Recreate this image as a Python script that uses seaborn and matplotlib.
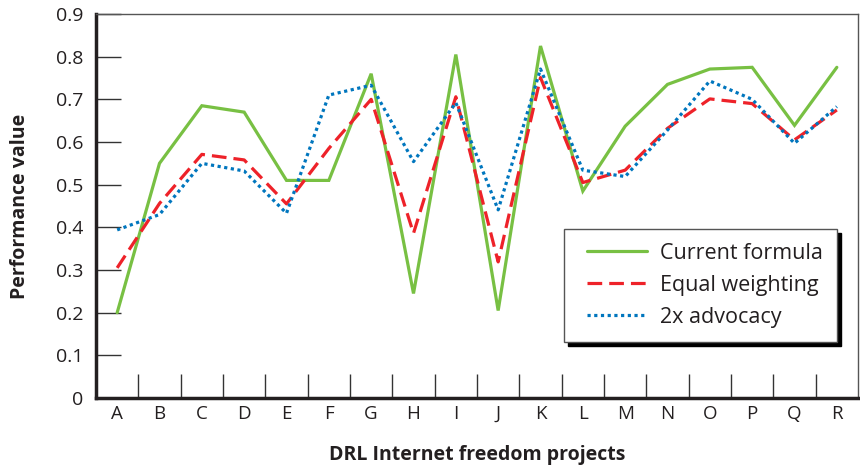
import numpy as np
import pandas as pd
import matplotlib
matplotlib.use("Agg")
import matplotlib.pyplot as plt
import seaborn as sns
from matplotlib.ticker import FixedLocator
from matplotlib.lines import Line2D
from matplotlib.legend_handler import HandlerLine2D

categories = list("ABCDEFGHIJKLMNOPQR")
current_formula = [0.20, 0.55, 0.685, 0.67, 0.51, 0.51, 0.76, 0.245, 0.805, 0.205, 0.825,
                   0.485, 0.637, 0.735, 0.771, 0.775, 0.639, 0.775]
equal_weighting = [0.305, 0.456, 0.571, 0.558, 0.455, 0.585, 0.70, 0.386, 0.706, 0.319, 0.751,
                   0.505, 0.534, 0.632, 0.701, 0.690, 0.605, 0.675]
advocacy_2x = [0.394, 0.43, 0.55, 0.532, 0.433, 0.71, 0.733, 0.554, 0.692, 0.441, 0.771,
               0.534, 0.519, 0.628, 0.743, 0.70, 0.597, 0.683]
series_names = ["Current formula", "Equal weighting", "2x advocacy"]
y_ticks = [0, 0.1, 0.2, 0.3, 0.4, 0.5, 0.6, 0.7, 0.8, 0.9]

sns.set_style("white")
plt.rcParams["font.family"] = ["Open Sans", "DejaVu Sans"]

pos = np.arange(len(categories))
df = pd.DataFrame({
    "pos": np.concatenate([pos, pos, pos]),
    "value": current_formula + equal_weighting + advocacy_2x,
    "series": np.repeat(series_names, len(categories)),
})

fig = plt.figure(figsize=(8.6, 4.68), dpi=100)
ax = fig.add_axes([96/860, 1-398/468, (858-96)/860, (398-14)/468])

colors = {"Current formula": "#78C043", "Equal weighting": "#EE2229", "2x advocacy": "#0076BE"}
styles = {"Current formula": "-", "Equal weighting": (0, (4.6, 2.2)), "2x advocacy": (0, (1.0, 1.1))}

for name in series_names:
    sub = df[df["series"] == name]
    sns.lineplot(data=sub, x="pos", y="value", ax=ax, color=colors[name],
                 linewidth=2.3, label=name, legend=False)
    ax.lines[-1].set_linestyle(styles[name])
    ax.lines[-1].set_solid_joinstyle("miter")
    ax.lines[-1].set_dash_capstyle("butt")

txt = "#231F20"
ax.set_xlim(-0.5, len(categories) - 0.5)
ax.set_ylim(0, 0.9)
ax.set_xticks(pos)
ax.set_xticklabels(categories, fontsize=13.5)
ax.xaxis.set_minor_locator(FixedLocator(pos[:-1] + 0.5))
ax.tick_params(axis="x", which="major", length=0, pad=5, colors=txt)
ax.tick_params(axis="x", which="minor", direction="in", length=17, width=1.0, color="#333333", bottom=True)
ax.set_yticks(y_ticks)
ax.set_yticklabels([("0" if v == 0 else f"{v:.1f}") for v in y_ticks], fontsize=14)
ax.tick_params(axis="y", which="major", direction="in", length=18, width=1.0, color="#333333", pad=9,
               left=True, labelcolor=txt)

ax.set_xlabel("DRL Internet freedom projects", fontsize=14, fontweight="bold", labelpad=16, color=txt)
ax.set_ylabel("Performance value", fontsize=14, fontweight="bold", labelpad=19, color=txt)

for s in ["left", "bottom"]:
    ax.spines[s].set_linewidth(2.5)
    ax.spines[s].set_color(txt)
for s in ["top", "right"]:
    ax.spines[s].set_linewidth(1.0)
    ax.spines[s].set_color("#555555")
    ax.spines[s].set_visible(True)

handles, labels = ax.get_legend_handles_labels()
leg = ax.legend(handles, labels, loc="upper left", bbox_to_anchor=((564-96)/762, (398-229)/384),
                fontsize=15.5, frameon=True, fancybox=False,
                shadow={"ox": 3, "oy": -3, "facecolor": "black", "edgecolor": "black", "alpha": 1},
                handlelength=3.2, handletextpad=0.6, borderpad=0.65, labelspacing=0.5,
                borderaxespad=0, handler_map={Line2D: HandlerLine2D(xpad=0.4)})
leg.get_frame().set_edgecolor("#555555")
leg.get_frame().set_linewidth(1.0)
for t in leg.get_texts():
    t.set_color(txt)

fig.savefig("out.png", dpi=100)
